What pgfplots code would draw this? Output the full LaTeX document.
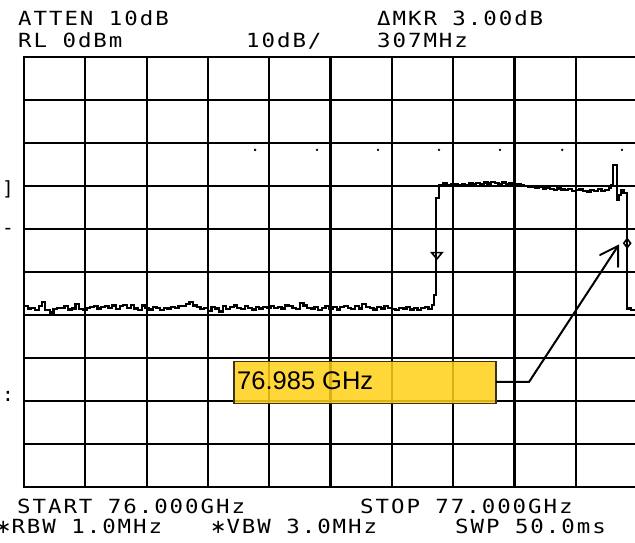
\documentclass[border=0pt]{standalone}
\usepackage{fontspec}
\usepackage{pgfplots}
\pgfplotsset{compat=1.18}
\setmainfont{Liberation Sans}
\newfontfamily\hp[FakeStretch=1.15,LetterSpace=10]{DejaVu Sans Mono}
\newfontfamily\hpn{DejaVu Sans Mono}
\newfontfamily\dvs{DejaVu Sans}
\definecolor{boxyellow}{RGB}{255,208,22}
\definecolor{boxedge}{RGB}{60,50,20}
\newcommand{\hpsize}{\fontsize{19.5}{20}\selectfont}
\begin{document}
\begin{tikzpicture}[x=1pt,y=1pt]
\begin{axis}[
  at={(24pt,56pt)}, anchor=south west,
  scale only axis, width=613pt, height=430pt,
  xmin=76, xmax=77, ymin=-100, ymax=0,
  xtick={76,76.1,76.2,76.3,76.4,76.5,76.6,76.7,76.8,76.9,77},
  ytick={-100,-90,-80,-70,-60,-50,-40,-30,-20,-10,0},
  grid=major, major grid style={black, line width=2.2pt},
  axis line style={black, line width=2.2pt},
  xticklabels={}, yticklabels={}, major tick length=0pt,
  clip=false,
]
% display line dots
\addplot[only marks, mark=*, mark size=1pt, black] coordinates {
 (76.377,-21.6) (76.478,-21.6) (76.5775,-21.6) (76.677,-21.6)
 (76.7765,-21.6) (76.878,-21.6) (76.9755,-21.6)};
% trace
\addplot[const plot, black, line width=2.2pt] coordinates {
(76.000,-58.0) (76.006,-58.5) (76.012,-58.3) (76.018,-58.9) (76.024,-57.9)
(76.030,-56.9) (76.034,-58.8) (76.042,-59.4) (76.048,-58.6) (76.054,-58.3)
(76.060,-58.4) (76.066,-58.0) (76.072,-58.7) (76.078,-58.5) (76.084,-57.4)
(76.090,-58.6) (76.096,-58.9) (76.102,-58.4) (76.108,-58.2) (76.114,-58.0)
(76.120,-58.5) (76.126,-58.1) (76.132,-57.9) (76.138,-58.3) (76.144,-57.8)
(76.150,-58.6) (76.156,-58.0) (76.162,-57.7) (76.168,-58.4) (76.174,-57.6)
(76.180,-58.5) (76.186,-58.9) (76.192,-57.8) (76.198,-58.4) (76.204,-58.7)
(76.210,-58.2) (76.216,-58.3) (76.222,-58.8) (76.228,-58.4) (76.234,-58.5)
(76.240,-58.1) (76.246,-58.4) (76.252,-57.9) (76.258,-58.0) (76.264,-57.5)
(76.270,-57.0) (76.276,-57.8) (76.282,-58.2) (76.288,-58.6) (76.294,-58.3)
(76.300,-59.0) (76.306,-58.1) (76.312,-58.5) (76.318,-59.2) (76.324,-58.0)
(76.330,-58.6) (76.336,-58.2) (76.342,-57.8) (76.348,-58.3) (76.354,-58.6)
(76.360,-58.0) (76.366,-58.4) (76.372,-58.7) (76.378,-58.1) (76.384,-58.5)
(76.390,-58.2) (76.396,-58.3) (76.402,-57.9) (76.408,-58.4) (76.414,-58.2)
(76.420,-58.5) (76.426,-57.8) (76.432,-58.0) (76.438,-58.4) (76.444,-58.6)
(76.450,-57.3) (76.456,-57.8) (76.462,-58.3) (76.468,-58.5) (76.474,-58.2)
(76.480,-58.8) (76.486,-58.3) (76.492,-58.0) (76.498,-58.5) (76.504,-58.2)
(76.510,-58.7) (76.516,-58.1) (76.522,-57.9) (76.528,-58.4) (76.534,-58.6)
(76.540,-58.0) (76.546,-58.5) (76.552,-57.5) (76.558,-58.2) (76.564,-58.4)
(76.570,-58.7) (76.576,-58.2) (76.582,-58.5) (76.588,-58.0) (76.594,-58.3)
(76.600,-58.6) (76.606,-58.9) (76.612,-58.3) (76.618,-58.5) (76.624,-58.2)
(76.630,-58.7) (76.636,-58.4) (76.642,-58.9) (76.648,-58.3) (76.654,-58.1)
(76.660,-58.6) (76.666,-57.6) (76.669,-55.3) (76.672,-32.8) (76.677,-29.7)
(76.684,-29.4) (76.690,-29.8) (76.696,-29.5) (76.702,-29.6) (76.708,-29.9)
(76.714,-29.5) (76.720,-29.7) (76.726,-29.4) (76.732,-29.6) (76.738,-29.3)
(76.744,-29.5) (76.750,-29.2) (76.756,-29.4) (76.762,-29.0) (76.768,-29.3)
(76.774,-29.6) (76.780,-29.2) (76.786,-29.5) (76.792,-29.4) (76.798,-29.7)
(76.804,-29.5) (76.810,-29.8) (76.816,-30.0) (76.822,-30.3) (76.828,-30.1)
(76.834,-30.5) (76.840,-30.3) (76.846,-30.6) (76.852,-30.4) (76.858,-30.7)
(76.864,-30.9) (76.870,-30.6) (76.876,-30.8) (76.882,-31.0) (76.888,-30.7)
(76.894,-31.2) (76.900,-31.0) (76.906,-30.8) (76.912,-31.1) (76.918,-31.3)
(76.924,-30.9) (76.930,-31.1) (76.936,-30.7) (76.942,-31.2) (76.948,-30.9)
(76.954,-30.4) (76.958,-29.8) (76.961,-25.1) (76.967,-33.3) (76.970,-32.1)
(76.974,-30.9) (76.978,-31.6) (76.984,-58.5) (76.990,-58.9) (77.000,-58.9)};
% markers
\addplot[only marks, mark=triangle, mark size=6pt,
  mark options={rotate=180, yscale=0.7, line width=1.6pt, fill=white}] coordinates {(76.6735,-46.0)};
\addplot[only marks, mark=diamond, mark size=4.5pt,
  mark options={line width=1.6pt, fill=white}] coordinates {(76.984,-43.3)};
\end{axis}
% header and footer texts
\node[anchor=base west, inner sep=0] at (18,517) {\hpsize\hp ATTEN 10dB};
\node[anchor=base west, inner sep=0] at (18,495) {\hpsize\hp RL 0dBm};
\node[anchor=base west, inner sep=0] at (246,495) {\hpsize\hp 10dB/};
\node[anchor=base west, inner sep=0] at (377,517) {\hpsize\hp ΔMKR 3.00dB};
\node[anchor=base west, inner sep=0] at (377,495) {\hpsize\hp 307MHz};
\node[anchor=base west, inner sep=0] at (17,29) {\hpsize\hp START 76.000GHz};
\node[anchor=base west, inner sep=0] at (360,29) {\hpsize\hp STOP 77.000GHz};
\node[anchor=base west, inner sep=0] at (-5,9) {\hpsize{\dvs ∗}\hp RBW 1.0MHz};
\node[anchor=base west, inner sep=0] at (210,9) {\hpsize{\dvs ∗}\hp VBW 3.0MHz};
\node[anchor=base west, inner sep=0] at (455,9) {\hpsize\hp SWP 50.0ms};
% cut-off glyphs at the left edge
\node[anchor=base east, inner sep=0] at (14,347) {\hpsize\hpn ]};
\node[anchor=base east, inner sep=0] at (14,308) {\hpsize\hpn -};
\node[anchor=base east, inner sep=0] at (14,141) {\hpsize\hpn :};
% annotation
\draw[line width=1.5pt, draw=boxedge, fill=boxyellow, fill opacity=0.85]
  (234,139.5) rectangle (496,181.5);
\node[anchor=base west, inner sep=0] at (237,153.5) {\fontsize{25.5}{28}\selectfont 76.985 GHz};
\draw[line width=2pt, black, line join=miter] (496,161) -- (529,161) -- (618,297);
\draw[line width=2pt, black, line cap=round, line join=miter] (600,288) -- (618,297) -- (618,276);
\pgfresetboundingbox
\path[use as bounding box] (0,0) rectangle (635,543);
\end{tikzpicture}
\end{document}
